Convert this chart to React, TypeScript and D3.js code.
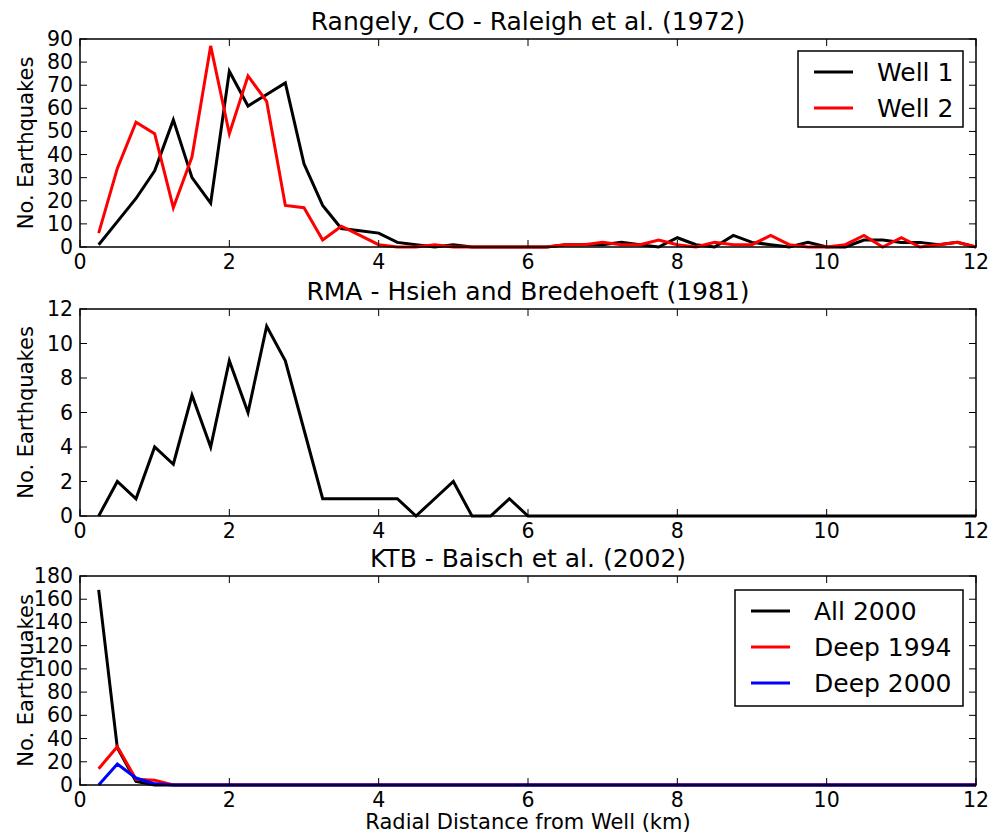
import React from 'react'
import * as d3 from 'd3'

// bin centres (km)
const distances = [
  0.25, 0.5, 0.75, 1, 1.25, 1.5, 1.75, 2, 2.25, 2.5, 2.75, 3,
  3.25, 3.5, 3.75, 4, 4.25, 4.5, 4.75, 5, 5.25, 5.5, 5.75, 6,
  6.25, 6.5, 6.75, 7, 7.25, 7.5, 7.75, 8, 8.25, 8.5, 8.75, 9,
  9.25, 9.5, 9.75, 10, 10.25, 10.5, 10.75, 11, 11.25, 11.5, 11.75, 12,
]

// Rangely
const well1 = [
  1, 11, 21, 33, 55, 30, 19, 76, 61, 66, 71, 36,
  18, 8, 7, 6, 2, 1, 0, 1, 0, 0, 0, 0,
  0, 1, 1, 1, 2, 1, 0, 4, 1, 0, 5, 2,
  1, 0, 2, 0, 0, 3, 3, 2, 2, 1, 2, 0,
]
const well2 = [
  6, 34, 54, 49, 17, 39, 87, 49, 74, 63, 18, 17,
  3, 9, 5, 1, 0, 0, 1, 0, 0, 0, 0, 0,
  0, 1, 1, 2, 1, 1, 3, 1, 0, 2, 1, 1,
  5, 1, 0, 0, 1, 5, 0, 4, 0, 1, 2, 0,
]

// RMA
const rma = [
  0, 2, 1, 4, 3, 7, 4, 9, 6, 11, 9, 5,
  1, 1, 1, 1, 1, 0, 1, 2, 0, 0, 1, 0,
  0, 0, 0, 0, 0, 0, 0, 0, 0, 0, 0, 0,
  0, 0, 0, 0, 0, 0, 0, 0, 0, 0, 0, 0,
]

// KTB
const all2000 = [
  168, 32, 3, 0, 0, 0, 0, 0, 0, 0, 0, 0,
  0, 0, 0, 0, 0, 0, 0, 0, 0, 0, 0, 0,
  0, 0, 0, 0, 0, 0, 0, 0, 0, 0, 0, 0,
  0, 0, 0, 0, 0, 0, 0, 0, 0, 0, 0, 0,
]
const deep1994 = [
  14, 33, 5, 4, 0, 0, 0, 0, 0, 0, 0, 0,
  0, 0, 0, 0, 0, 0, 0, 0, 0, 0, 0, 0,
  0, 0, 0, 0, 0, 0, 0, 0, 0, 0, 0, 0,
  0, 0, 0, 0, 0, 0, 0, 0, 0, 0, 0, 0,
]
const deep2000 = [
  0, 18, 6, 1, 0, 0, 0, 0, 0, 0, 0, 0,
  0, 0, 0, 0, 0, 0, 0, 0, 0, 0, 0, 0,
  0, 0, 0, 0, 0, 0, 0, 0, 0, 0, 0, 0,
  0, 0, 0, 0, 0, 0, 0, 0, 0, 0, 0, 0,
]

const xTicks = [0, 2, 4, 6, 8, 10, 12]

const FONT = 'DejaVu Sans, sans-serif'
const W = 992
const H = 838
const left = 80
const right = 976
const tickLen = 7

const x = d3.scaleLinear().domain([0, 12]).range([left, right])

interface Series { name: string; color: string; values: number[] }
interface PanelDef {
  title: string
  top: number
  bottom: number
  ymax: number
  step: number
  series: Series[]
  legend?: { x0: number; y0: number; w: number; h: number; row: number }
}

const panels: PanelDef[] = [
  {
    title: 'Rangely, CO - Raleigh et al. (1972)',
    top: 39, bottom: 247, ymax: 90, step: 10,
    series: [
      { name: 'Well 1', color: '#000000', values: well1 },
      { name: 'Well 2', color: '#ff0000', values: well2 },
    ],
    legend: { x0: 798, y0: 51, w: 165, h: 76, row: 36 },
  },
  {
    title: 'RMA - Hsieh and Bredehoeft (1981)',
    top: 309, bottom: 516, ymax: 12, step: 2,
    series: [{ name: 'RMA', color: '#000000', values: rma }],
  },
  {
    title: 'KTB - Baisch et al. (2002)',
    top: 576, bottom: 785, ymax: 180, step: 20,
    series: [
      { name: 'All 2000', color: '#000000', values: all2000 },
      { name: 'Deep 1994', color: '#ff0000', values: deep1994 },
      { name: 'Deep 2000', color: '#0000ff', values: deep2000 },
    ],
    legend: { x0: 735, y0: 590, w: 228, h: 116, row: 36 },
  },
]

function Panel({ p }: { p: PanelDef }) {
  const y = d3.scaleLinear().domain([0, p.ymax]).range([p.bottom, p.top])
  const yTicks = d3.range(0, p.ymax + p.step / 2, p.step)
  const line = d3.line<number>()
    .x((_, i) => x(distances[i]))
    .y(d => y(d))
  const midY = (p.top + p.bottom) / 2
  return (
    <g>
      {p.series.map(s => (
        <path key={s.name} d={line(s.values) || ''} fill="none" stroke={s.color}
          strokeWidth={3} strokeLinejoin="miter" />
      ))}
      <rect x={left} y={p.top} width={right - left} height={p.bottom - p.top}
        fill="none" stroke="#000" strokeWidth={1.5} />
      {xTicks.map(t => (
        <g key={'x' + t}>
          <line x1={x(t)} x2={x(t)} y1={p.bottom} y2={p.bottom - tickLen} stroke="#000" />
          <line x1={x(t)} x2={x(t)} y1={p.top} y2={p.top + tickLen} stroke="#000" />
          <text x={x(t)} y={p.bottom + 22} textAnchor="middle" fontSize={20.5} fill="#000">{t}</text>
        </g>
      ))}
      {yTicks.map(t => (
        <g key={'y' + t}>
          <line x1={left} x2={left + tickLen} y1={y(t)} y2={y(t)} stroke="#000" />
          <line x1={right} x2={right - tickLen} y1={y(t)} y2={y(t)} stroke="#000" />
          <text x={left - 7} y={y(t) + 7} textAnchor="end" fontSize={20.5} fill="#000">{t}</text>
        </g>
      ))}
      <text x={(left + right) / 2} y={p.top - 9} textAnchor="middle" fontSize={25} fill="#000">{p.title}</text>
      <text transform={`translate(33,${midY}) rotate(-90)`} textAnchor="middle" fontSize={21} fill="#000">
        No. Earthquakes
      </text>
      {p.legend && (
        <g>
          <rect x={p.legend.x0} y={p.legend.y0} width={p.legend.w} height={p.legend.h}
            fill="#fff" stroke="#000" strokeWidth={1.5} />
          {p.series.map((s, i) => {
            const ry = p.legend!.y0 + 21 + i * p.legend!.row
            return (
              <g key={'l' + s.name}>
                <line x1={p.legend!.x0 + 16} x2={p.legend!.x0 + 55} y1={ry} y2={ry}
                  stroke={s.color} strokeWidth={3} />
                <text x={p.legend!.x0 + 79} y={ry + 9} fontSize={25} fill="#000">{s.name}</text>
              </g>
            )
          })}
        </g>
      )}
    </g>
  )
}

export default function App() {
  return (
    <div style={{ position: 'absolute', left: 0, top: 0 }}>
      <svg width={W} height={H} style={{ display: 'block', fontFamily: FONT }}>
        <rect width={W} height={H} fill="#fff" />
        {panels.map(p => <Panel key={p.title} p={p} />)}
        <text x={(left + right) / 2} y={829} textAnchor="middle" fontSize={21} fill="#000">
          Radial Distance from Well (km)
        </text>
      </svg>
    </div>
  )
}
